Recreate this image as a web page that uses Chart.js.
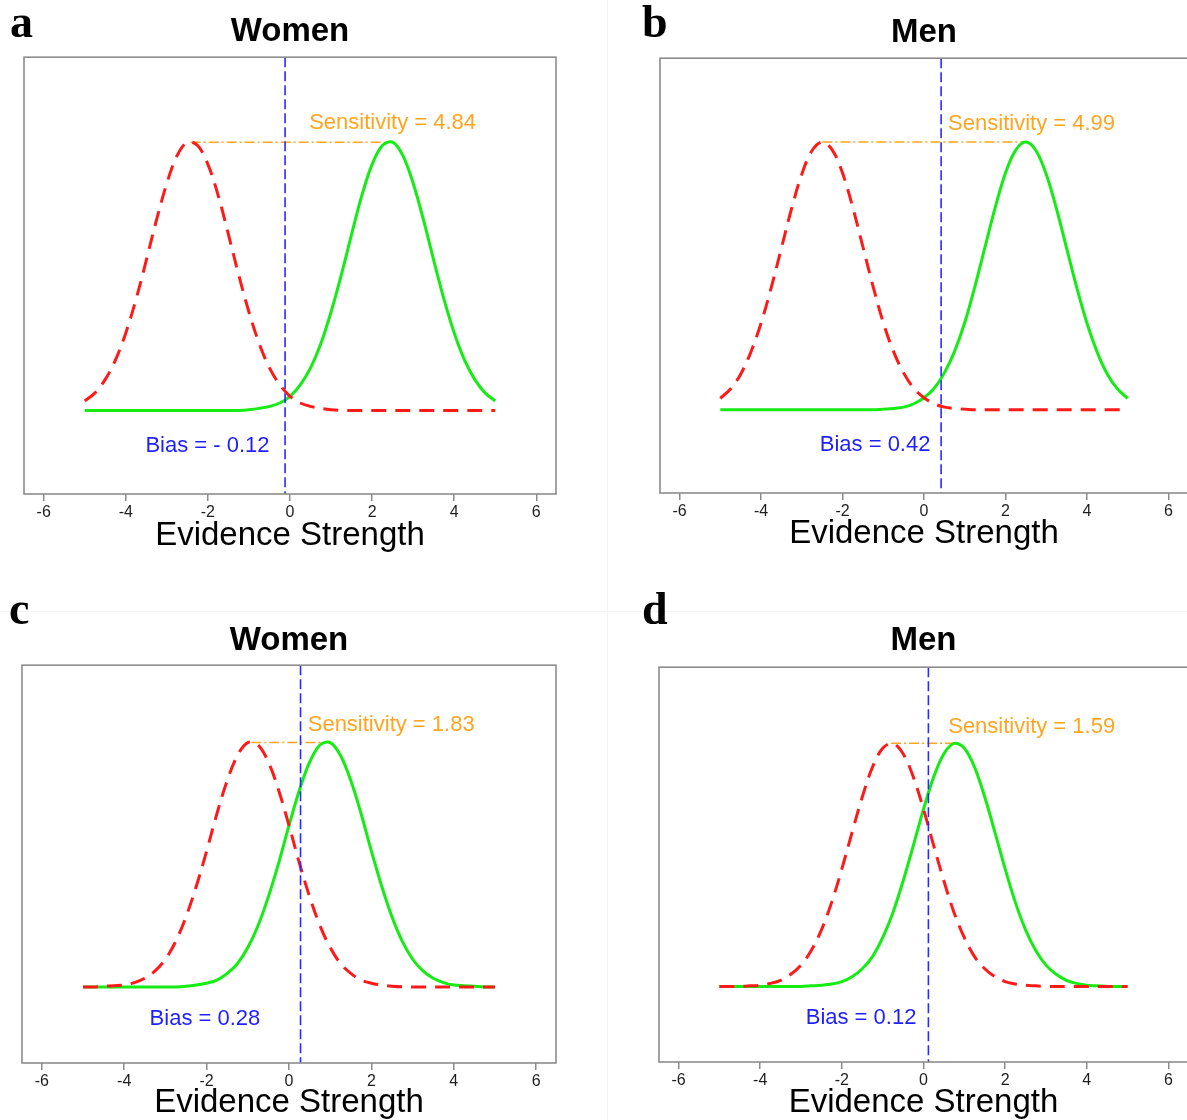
<!DOCTYPE html>
<html>
<head>
<meta charset="utf-8">
<title>Evidence Strength</title>
<script src="https://cdn.jsdelivr.net/npm/chart.js@4.4.1/dist/chart.umd.min.js"></script>
<style>
  html, body { margin: 0; padding: 0; background: #fff; overflow: hidden; width: 1187px; height: 1120px; }
  canvas { position: absolute; }
  .letter { position: absolute; font-family: "Liberation Serif", "DejaVu Serif", serif; font-weight: bold;
            font-size: 46px; line-height: 46px; color: #000; }
  .seam { position: absolute; background: #f3f3f3; }
</style>
</head>
<body>
<div class="seam" style="left:607px;top:0;width:1px;height:1120px"></div>
<div class="seam" style="left:0;top:611px;width:1187px;height:1px"></div>

<canvas id="chartA" width="580" height="558" style="left:0;top:0"></canvas>
<canvas id="chartB" width="576" height="557" style="left:636px;top:0"></canvas>
<canvas id="chartC" width="578" height="527" style="left:0;top:600px"></canvas>
<canvas id="chartD" width="577" height="526" style="left:635px;top:600px"></canvas>

<div class="letter" style="left:10px;top:-1px">a</div>
<div class="letter" style="left:642px;top:-1px">b</div>
<div class="letter" style="left:9px;top:586px">c</div>
<div class="letter" style="left:642px;top:586px">d</div>

<script>
// evidence strength grid shared by all four panels
const evidence = [-5, -4.75, -4.5, -4.25, -4, -3.75, -3.5, -3.25, -3, -2.75, -2.5, -2.25, -2, -1.75, -1.5, -1.25,
  -1, -0.75, -0.5, -0.25, 0, 0.25, 0.5, 0.75, 1, 1.25, 1.5, 1.75, 2, 2.25, 2.5, 2.75, 3, 3.25, 3.5, 3.75,
  4, 4.25, 4.5, 4.75, 5];
const xTicks = [-6, -4, -2, 0, 2, 4, 6];

const titles = ['Women', 'Men', 'Women', 'Men'];
const sensitivity = [4.84, 4.99, 1.83, 1.59];
const bias = [-0.12, 0.42, 0.28, 0.12];

// a: women
const noiseA = [0.014, 0.026, 0.046, 0.075, 0.115, 0.165, 0.223, 0.283, 0.337, 0.378, 0.398,
  0.393, 0.365, 0.319, 0.261, 0.201, 0.146, 0.099, 0.063, 0.038, 0.021, 0.011, 0.006, 0.003, 0.001,
  0, 0, 0, 0, 0, 0, 0, 0, 0, 0, 0, 0, 0, 0, 0, 0];
const signalA = [0, 0, 0, 0, 0, 0, 0, 0, 0, 0, 0, 0, 0, 0, 0, 0,
  0.001, 0.003, 0.006, 0.011, 0.021, 0.038, 0.063, 0.099, 0.146, 0.201, 0.261, 0.319, 0.365, 0.393,
  0.398, 0.378, 0.337, 0.283, 0.223, 0.165, 0.115, 0.075, 0.046, 0.026, 0.014];

// b: men
const noiseB = [0.017, 0.031, 0.053, 0.086, 0.129, 0.182, 0.241, 0.300, 0.351, 0.386, 0.399,
  0.387, 0.353, 0.302, 0.243, 0.184, 0.130, 0.087, 0.055, 0.032, 0.018, 0.009, 0.004, 0.002, 0.001,
  0, 0, 0, 0, 0, 0, 0, 0, 0, 0, 0, 0, 0, 0, 0, 0];
const signalB = [0, 0, 0, 0, 0, 0, 0, 0, 0, 0, 0, 0, 0, 0, 0, 0,
  0.001, 0.002, 0.004, 0.009, 0.018, 0.032, 0.055, 0.087, 0.130, 0.184, 0.243, 0.302, 0.353, 0.387,
  0.399, 0.386, 0.351, 0.300, 0.241, 0.182, 0.129, 0.086, 0.053, 0.031, 0.017];

// c: women
const noiseC = [0, 0, 0.001, 0.002, 0.003, 0.007, 0.014, 0.026, 0.045, 0.074, 0.114, 0.164, 0.221,
  0.282, 0.336, 0.377, 0.398, 0.394, 0.366, 0.320, 0.263, 0.202, 0.147, 0.100, 0.064, 0.038, 0.022,
  0.011, 0.006, 0.003, 0.001, 0, 0, 0, 0, 0, 0, 0, 0, 0, 0];
const signalC = [0, 0, 0, 0, 0, 0, 0, 0, 0, 0,
  0.001, 0.003, 0.006, 0.011, 0.022, 0.038, 0.064, 0.100, 0.147, 0.202, 0.263, 0.320, 0.366, 0.394,
  0.398, 0.377, 0.336, 0.282, 0.221, 0.164, 0.114, 0.074, 0.045, 0.026, 0.014, 0.007, 0.003, 0.002,
  0.001, 0, 0];

// d: men
const noiseD = [0, 0, 0, 0.001, 0.002, 0.005, 0.010, 0.020, 0.035, 0.059, 0.093, 0.138, 0.193, 0.253,
  0.311, 0.360, 0.391, 0.399, 0.382, 0.344, 0.291, 0.231, 0.173, 0.121, 0.080, 0.049, 0.029, 0.016,
  0.008, 0.004, 0.002, 0.001, 0, 0, 0, 0, 0, 0, 0, 0, 0];
const signalD = [0, 0, 0, 0, 0, 0, 0, 0, 0,
  0.001, 0.002, 0.004, 0.008, 0.016, 0.029, 0.049, 0.080, 0.121, 0.173, 0.231, 0.291, 0.344, 0.382,
  0.399, 0.391, 0.360, 0.311, 0.253, 0.193, 0.138, 0.093, 0.059, 0.035, 0.020, 0.010, 0.005, 0.002,
  0.001, 0, 0, 0];

const noise = [noiseA, noiseB, noiseC, noiseD];
const signal = [signalA, signalB, signalC, signalD];

// where the text sits (data units) and how each canvas is padded
const layout = [
  { id: 'chartA', padX: 24, titleTop: 11.8, titleBottom: 5.8, axisBottom: 2.2, sensAt: [2.5, 0.426], biasAt: [-2.01, -0.052] },
  { id: 'chartB', padX: 24, titleTop: 13.3, titleBottom: 5.3, axisBottom: 3.2, sensAt: [2.64, 0.426], biasAt: [-1.2, -0.052] },
  { id: 'chartC', padX: 22, titleTop: 20.8, titleBottom: 4.8, axisBottom: 4.2, sensAt: [2.48, 0.426], biasAt: [-2.04, -0.052] },
  { id: 'chartD', padX: 24, titleTop: 20.8, titleBottom: 6.8, axisBottom: 3.2, sensAt: [2.65, 0.426], biasAt: [-1.53, -0.052] }
];

const FONT = '"Liberation Sans", Arial, sans-serif';

function toPoints(values) {
  return evidence.map((x, i) => ({ x: x, y: values[i] }));
}

function fmt(v) {
  return v < 0 ? '- ' + Math.abs(v).toFixed(2) : v.toFixed(2);
}

// criterion line, labels and the plot frame
const sdtMarks = {
  id: 'sdtMarks',
  afterDatasetsDraw(chart, args, opts) {
    const { ctx, chartArea: a, scales: { x, y } } = chart;
    const bx = x.getPixelForValue(opts.bias);
    ctx.save();
    ctx.strokeStyle = '#2a2aff';
    ctx.lineWidth = 1.6;
    ctx.setLineDash([10, 4]);
    ctx.beginPath();
    ctx.moveTo(bx, a.top);
    ctx.lineTo(bx, a.bottom);
    ctx.stroke();
    ctx.setLineDash([]);

    ctx.font = '22px ' + FONT;
    ctx.textAlign = 'center';
    ctx.textBaseline = 'middle';
    ctx.fillStyle = '#ffa520';
    ctx.fillText('Sensitivity = ' + opts.sens.toFixed(2),
      x.getPixelForValue(opts.sensAt[0]), y.getPixelForValue(opts.sensAt[1]));
    ctx.fillStyle = '#1f1fff';
    ctx.fillText('Bias = ' + fmt(opts.bias),
      x.getPixelForValue(opts.biasAt[0]), y.getPixelForValue(opts.biasAt[1]));

    ctx.strokeStyle = '#8c8c8c';
    ctx.lineWidth = 1.6;
    ctx.strokeRect(a.left, a.top, a.right - a.left, a.bottom - a.top);
    ctx.restore();
  }
};

layout.forEach((p, k) => {
  const peak = Math.max(...signal[k]);
  const ctx = document.getElementById(p.id).getContext('2d');
  new Chart(ctx, {
    type: 'line',
    data: {
      datasets: [
        {
          data: toPoints(noise[k]),
          borderColor: '#ff1a1a',
          borderWidth: 3,
          borderDash: [15, 9]
        },
        {
          data: toPoints(signal[k]),
          borderColor: '#14ec14',
          borderWidth: 3
        },
        {
          data: [{ x: -sensitivity[k] / 2, y: peak }, { x: sensitivity[k] / 2, y: peak }],
          borderColor: '#ffa520',
          borderWidth: 1.5,
          borderDash: [10, 3, 2, 3],
          tension: 0
        }
      ]
    },
    options: {
      responsive: false,
      animation: false,
      events: [],
      layout: { padding: { left: p.padX, right: p.padX, top: 0, bottom: 0 } },
      elements: {
        point: { radius: 0 },
        line: { tension: 0.35, fill: false }
      },
      plugins: {
        legend: { display: false },
        tooltip: { enabled: false },
        title: {
          display: true,
          text: titles[k],
          color: '#000',
          font: { family: FONT, size: 33, weight: 'bold' },
          padding: { top: p.titleTop, bottom: p.titleBottom }
        },
        sdtMarks: { bias: bias[k], sens: sensitivity[k], sensAt: p.sensAt, biasAt: p.biasAt }
      },
      scales: {
        x: {
          type: 'linear',
          min: -6.48,
          max: 6.48,
          afterBuildTicks: s => { s.ticks = xTicks.map(v => ({ value: v })); },
          afterFit: s => { s.height = 64; },
          grid: { drawOnChartArea: false, drawTicks: true, tickLength: 7, color: '#8c8c8c', lineWidth: 1.5 },
          border: { display: false },
          ticks: { color: '#1e1e1e', font: { family: FONT, size: 16 }, padding: 2, autoSkip: false, maxRotation: 0 },
          title: {
            display: true,
            text: 'Evidence Strength',
            color: '#000',
            font: { family: FONT, size: 33 },
            padding: { top: 0, bottom: p.axisBottom }
          }
        },
        y: { display: false, min: -0.124, max: 0.524 }
      }
    },
    plugins: [sdtMarks]
  });
});
</script>
</body>
</html>
